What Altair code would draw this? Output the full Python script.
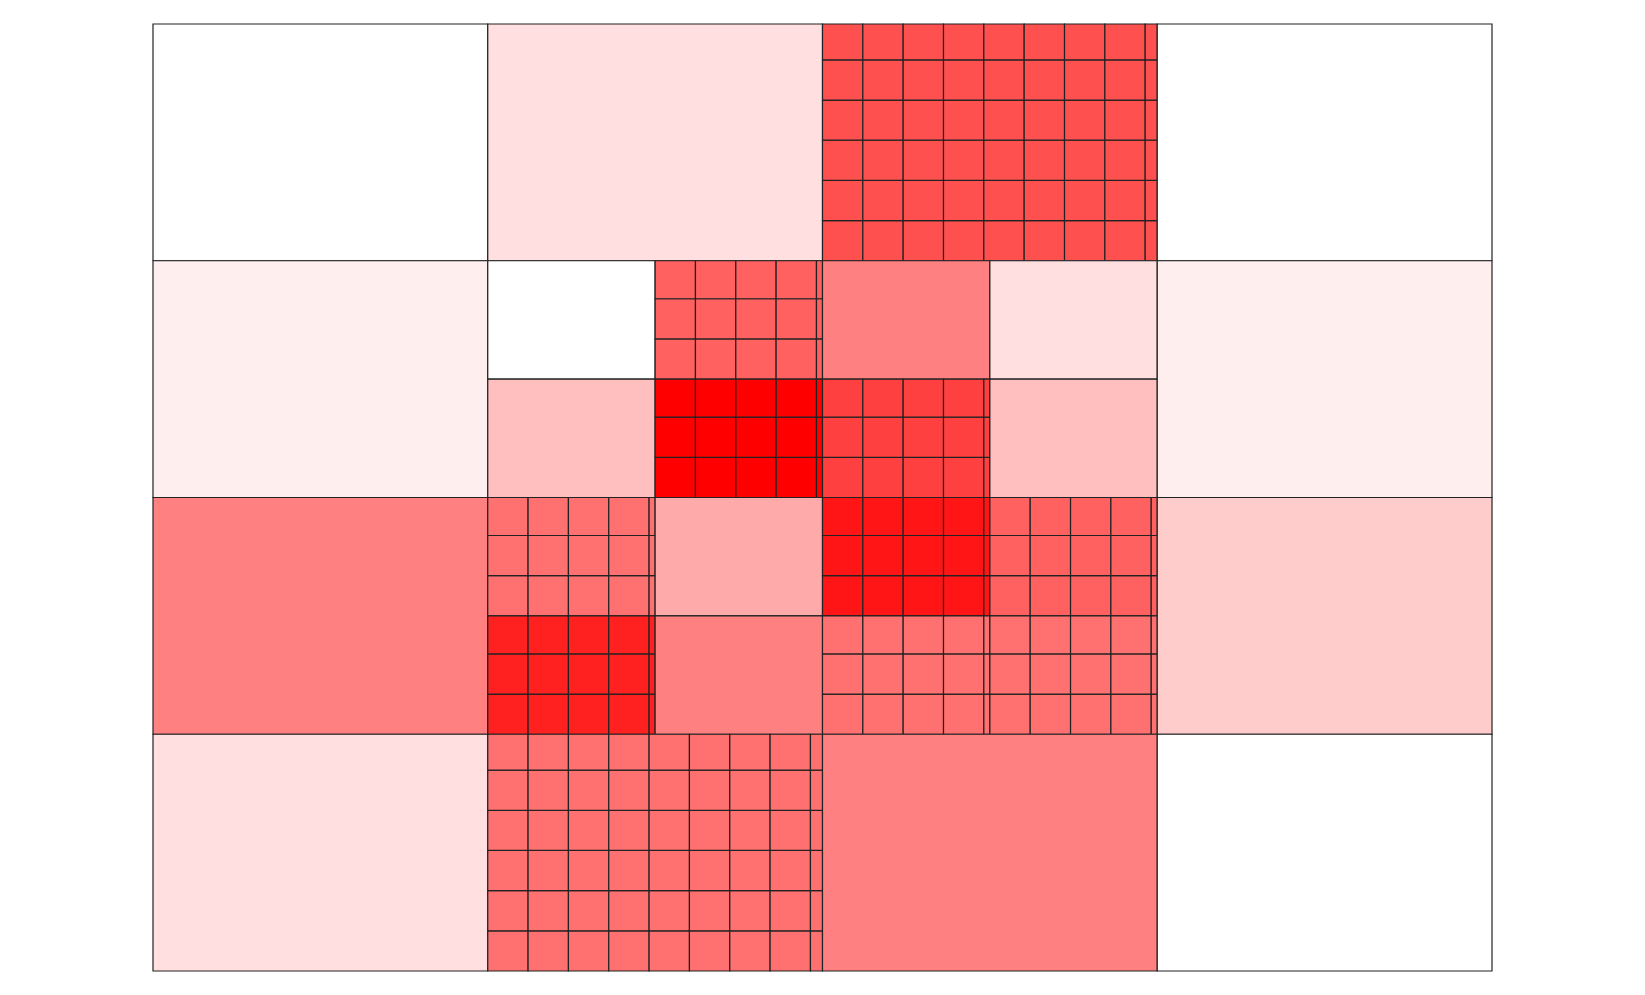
import altair as alt
import pandas as pd

# Leaf cells of the mesh (data units: each top-level block is 1 x 1, y upward)
x0 = [0, 1, 2, 3,
      0, 1, 1.5, 1, 1.5, 2, 2.5, 2, 2.5, 3,
      0, 1, 1.5, 1, 1.5, 2, 2.5, 2, 2.5, 3,
      0, 1, 2, 3]
x1 = [1, 2, 3, 4,
      1, 1.5, 2, 1.5, 2, 2.5, 3, 2.5, 3, 4,
      1, 1.5, 2, 1.5, 2, 2.5, 3, 2.5, 3, 4,
      1, 2, 3, 4]
y0 = [3, 3, 3, 3,
      2, 2.5, 2.5, 2, 2, 2.5, 2.5, 2, 2, 2,
      1, 1.5, 1.5, 1, 1, 1.5, 1.5, 1, 1, 1,
      0, 0, 0, 0]
y1 = [4, 4, 4, 4,
      3, 3, 3, 2.5, 2.5, 3, 3, 2.5, 2.5, 3,
      2, 2, 2, 1.5, 1.5, 2, 2, 1.5, 1.5, 2,
      1, 1, 1, 1]
colors = ["#FFFFFF", "#FFDFDF", "#FF5050", "#FFFFFF",
          "#FFEEEE", "#FFFFFF", "#FF6060", "#FFBFBF", "#FF0000",
          "#FF8080", "#FFDFDF", "#FF4040", "#FFBFBF", "#FFEEEE",
          "#FF8080", "#FF7070", "#FFAAAA", "#FF2020", "#FF8080",
          "#FF1515", "#FF6060", "#FF7070", "#FF7070", "#FFCCCC",
          "#FFDFDF", "#FF7070", "#FF8080", "#FFFFFF"]
gridded = [False, False, True, False,
           False, False, True, False, True,
           False, False, True, False, False,
           False, True, False, True, False,
           True, True, True, True, False,
           False, True, False, False]

# fine-grid spacing (a style of the subdivided cells)
DX = 0.1205
DY = 0.1697

rows = []
for a, b, c, d, col, g in zip(x0, x1, y0, y1, colors, gridded):
    if not g:
        rows.append(dict(x=a, x2=b, y=c, y2=d, color=col))
        continue
    i = 0
    while a + i * DX < b - 1e-9:
        j = 0
        while c + j * DY < d - 1e-9:
            rows.append(dict(x=a + i * DX, x2=min(b, a + (i + 1) * DX),
                             y=c + j * DY, y2=min(d, c + (j + 1) * DY),
                             color=col))
            j += 1
        i += 1

df = pd.DataFrame(rows)

xs = alt.Scale(domain=[0, 4], nice=False, zero=False)
ys = alt.Scale(domain=[0, 4], nice=False, zero=False)

chart = alt.Chart(df).mark_rect(stroke="#222222", strokeWidth=1.2).encode(
    x=alt.X("x:Q", scale=xs, axis=None),
    x2="x2",
    y=alt.Y("y:Q", scale=ys, axis=None),
    y2="y2",
    fill=alt.Fill("color:N", scale=None),
).properties(
    width=1339, height=947,
    padding={"left": 144, "top": 15, "right": 0, "bottom": 0},
).configure_view(stroke=None)

chart.save("out.html", embed_options={"renderer": "svg", "actions": False})
